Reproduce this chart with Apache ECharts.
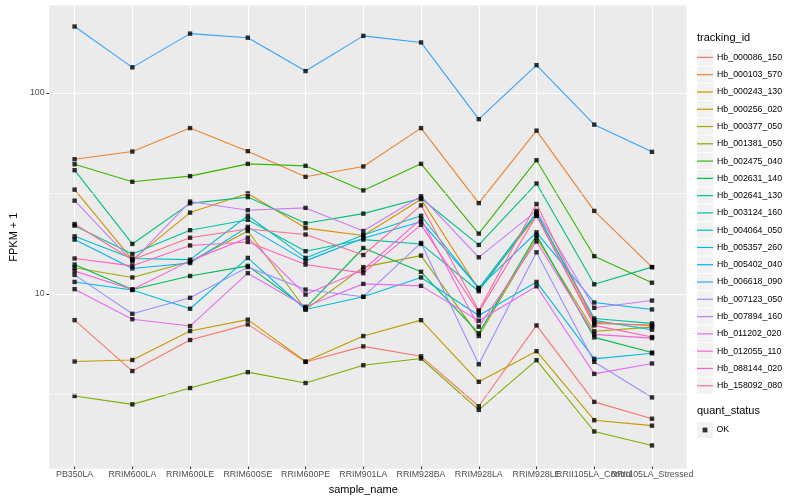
<!DOCTYPE html>
<html>
<head>
<meta charset="utf-8">
<script src="https://cdn.jsdelivr.net/npm/echarts@6/dist/echarts.min.js"></script>
<style>
html,body{margin:0;padding:0;background:#fff;}
#chart{width:800px;height:500px;}
</style>
</head>
<body>
<div id="chart"></div>
<script>
// ---------------- data ----------------
const categories = ["PB350LA","RRIM600LA","RRIM600LE","RRIM600SE","RRIM600PE","RRIM901LA","RRIM928BA","RRIM928LA","RRIM928LE","RRII105LA_Control","RRII105LA_Stressed"];
const seriesNames = ["Hb_000086_150","Hb_000103_570","Hb_000243_130","Hb_000256_020","Hb_000377_050","Hb_001381_050","Hb_002475_040","Hb_002631_140","Hb_002641_130","Hb_003124_160","Hb_004064_050","Hb_005357_260","Hb_005402_040","Hb_006618_090","Hb_007123_050","Hb_007894_160","Hb_011202_020","Hb_012055_110","Hb_088144_020","Hb_158092_080"];

const Hb_000086_150 = [7.28, 4.05, 5.79, 6.93, 4.50, 5.38, 4.80, 2.70, 6.85, 2.84, 2.34];
const Hb_000103_570 = [46.4, 50.7, 66.4, 50.9, 37.9, 42.7, 66.4, 28.0, 64.5, 25.6, 13.4];
const Hb_000243_130 = [32.7, 14.6, 25.1, 31.3, 21.0, 19.3, 29.3, 10.35, 24.2, 7.01, 6.88];
const Hb_000256_020 = [4.52, 4.60, 6.42, 7.32, 4.52, 6.06, 7.28, 3.58, 5.09, 2.30, 2.16];
const Hb_000377_050 = [13.3, 11.9, 14.3, 20.3, 8.23, 13.4, 15.3, 6.06, 18.8, 6.40, 6.72];
const Hb_001381_050 = [3.04, 2.76, 3.33, 4.00, 3.53, 4.33, 4.68, 2.59, 4.59, 2.02, 1.72];
const Hb_002475_040 = [43.8, 35.8, 38.2, 44.0, 43.0, 32.4, 44.0, 19.7, 45.9, 15.2, 11.2];
const Hb_002631_140 = [13.8, 10.35, 12.1, 13.6, 8.39, 16.7, 12.7, 6.25, 19.4, 5.97, 5.01];
const Hb_002641_130 = [40.9, 17.5, 27.9, 30.0, 22.2, 24.8, 29.6, 17.3, 35.1, 11.0, 13.4];
const Hb_003124_160 = [21.6, 15.6, 20.5, 23.1, 16.1, 18.4, 17.5, 10.15, 24.9, 7.42, 7.01];
const Hb_004064_050 = [19.1, 14.8, 14.6, 24.2, 14.9, 19.4, 24.2, 10.5, 25.1, 7.26, 6.52];
const Hb_005357_260 = [11.3, 10.3, 8.30, 14.9, 8.23, 9.52, 11.9, 7.68, 11.3, 4.66, 4.97];
const Hb_005402_040 = [18.4, 13.2, 14.05, 21.3, 14.4, 18.7, 22.6, 10.55, 20.0, 8.92, 8.23];
const Hb_006618_090 = [213.8, 133.6, 197, 188, 128, 192, 178, 73.6, 137, 69.1, 50.5];
const Hb_007123_050 = [12.25, 7.83, 9.41, 13.4, 10.35, 9.52, 17.7, 4.38, 15.9, 4.50, 2.99];
const Hb_007894_160 = [28.8, 14.3, 28.5, 25.8, 26.5, 20.3, 30.3, 15.0, 25.6, 8.39, 9.12];
const Hb_011202_020 = [10.4, 7.36, 6.80, 12.5, 8.49, 11.05, 10.8, 7.23, 10.75, 3.92, 4.42];
const Hb_012055_110 = [12.8, 10.35, 14.4, 18.8, 9.77, 13.0, 23.3, 6.75, 18.0, 6.18, 5.92];
const Hb_088144_020 = [14.8, 13.6, 17.2, 17.9, 13.8, 12.5, 21.8, 7.98, 24.2, 6.85, 5.99];
const Hb_158092_080 = [22.0, 14.6, 18.8, 20.8, 19.5, 15.4, 27.3, 8.14, 27.7, 7.10, 6.80];

const seriesValues = [Hb_000086_150, Hb_000103_570, Hb_000243_130, Hb_000256_020, Hb_000377_050, Hb_001381_050, Hb_002475_040, Hb_002631_140, Hb_002641_130, Hb_003124_160, Hb_004064_050, Hb_005357_260, Hb_005402_040, Hb_006618_090, Hb_007123_050, Hb_007894_160, Hb_011202_020, Hb_012055_110, Hb_088144_020, Hb_158092_080];

const yTickLabels = [10, 100];
const yMinorBreaks = [3.1623, 31.623];
const quantStatus = ["OK"];

// ---------------- style ----------------
const colors = ["#F8766D","#EA8331","#D89000","#C09B00","#A3A500","#7CAE00","#39B600","#00BB4E","#00BF7D","#00C1A3","#00BFC4","#00BAE0","#00B0F6","#35A2FF","#9590FF","#C77CFF","#E76BF3","#FA62DB","#FF62BC","#FF6C91"];
const FONT = '"Liberation Sans", Arial, sans-serif';
const PANEL = {left: 40, right: 113.4, top: 5.6, bottom: 31.3};
const DATAGRID = {left: 74.6, right: 148, top: 5.6, bottom: 31.3};
const Y_MIN = 1.35, Y_MAX = 272;

const lineSeries = seriesNames.map((name, i) => ({
  name: name,
  type: 'line',
  xAxisIndex: 1, yAxisIndex: 1,
  data: seriesValues[i],
  color: colors[i],
  showSymbol: false,
  symbol: 'none',
  lineStyle: {color: colors[i], width: 1.1},
  emphasis: {disabled: true},
  z: 2
}));

const pointData = [];
seriesValues.forEach(vals => vals.forEach((v, j) => pointData.push([categories[j], v])));

// legend key background boxes (decoration)
const keyBoxes = [];
for (let i = 0; i < seriesNames.length; i++) {
  keyBoxes.push({type: 'rect', left: 697, top: 49.2 + i * 17.28, shape: {width: 16, height: 16.3}, style: {fill: '#F2F2F2'}, z: -1});
}
keyBoxes.push({type: 'rect', left: 697, top: 421.8, shape: {width: 16, height: 16.3}, style: {fill: '#F2F2F2'}, z: -1});

const chart = echarts.init(document.getElementById('chart'), null, {renderer: 'canvas'});
chart.setOption({
  animation: false,
  backgroundColor: '#FFFFFF',
  textStyle: {fontFamily: FONT},
  grid: [
    Object.assign({show: true, backgroundColor: '#EBEBEB', borderWidth: 0}, PANEL),
    Object.assign({show: false}, DATAGRID)
  ],
  xAxis: [
    {gridIndex: 0, type: 'value', show: false, min: 0, max: 1},
    {
      gridIndex: 1, type: 'category', data: categories, boundaryGap: false,
      axisLine: {show: false},
      axisTick: {show: true, length: 2.7, lineStyle: {color: '#333333', width: 1}},
      axisLabel: {interval: 0, fontSize: 8.8, color: '#4D4D4D', margin: 3.6, fontFamily: FONT, hideOverlap: false},
      splitLine: {show: true, lineStyle: {color: '#FFFFFF', width: 1.1}},
      name: 'sample_name', nameLocation: 'middle', nameGap: 13.5,
      nameTextStyle: {fontSize: 11, color: '#000000', fontFamily: FONT}
    }
  ],
  yAxis: [
    {
      gridIndex: 0, type: 'log', min: Y_MIN, max: Y_MAX,
      axisLine: {show: false},
      axisTick: {show: true, length: 2.7, customValues: yTickLabels, lineStyle: {color: '#333333', width: 1}},
      axisLabel: {customValues: yTickLabels, fontSize: 8.8, color: '#4D4D4D', margin: 4.6, fontFamily: FONT},
      splitLine: {show: true, lineStyle: {color: '#FFFFFF', width: 1.1}},
      minorSplitLine: {show: false},
      name: 'FPKM + 1', nameLocation: 'middle', nameGap: 22, nameRotate: 90,
      nameTextStyle: {fontSize: 11, color: '#000000', fontFamily: FONT}
    },
    {gridIndex: 1, type: 'log', min: Y_MIN, max: Y_MAX, show: false}
  ],
  legend: [
    {
      data: seriesNames, orient: 'vertical', left: 692, top: 43.9, padding: 5,
      icon: 'rect', itemWidth: 16, itemHeight: 1.2, itemGap: 0.28,
      selectedMode: false,
      textStyle: {fontSize: 8.8, color: '#000000', lineHeight: 17, fontFamily: FONT, padding: [0, 0, 0, -1]}
    },
    {
      data: quantStatus, orient: 'vertical', left: 697.6, top: 416.5, padding: 5,
      icon: 'rect', itemWidth: 4.8, itemHeight: 4.8, selectedMode: false,
      textStyle: {fontSize: 8.8, color: '#000000', lineHeight: 17, fontFamily: FONT, padding: [0, 0, 0, 4]}
    }
  ],
  graphic: keyBoxes.concat([
    {type: 'text', left: 697, top: 32, style: {text: 'tracking_id', fontSize: 11, fill: '#000000', font: '11px ' + FONT}},
    {type: 'text', left: 697, top: 405.5, style: {text: 'quant_status', fontSize: 11, fill: '#000000', font: '11px ' + FONT}}
  ]),
  series: [
    {
      type: 'line', xAxisIndex: 0, yAxisIndex: 0, data: [], silent: true, z: 1,
      markLine: {
        silent: true, symbol: 'none', animation: false,
        label: {show: false},
        lineStyle: {color: '#FFFFFF', width: 0.55, type: 'solid'},
        emphasis: {disabled: true},
        data: yMinorBreaks.map(v => ({yAxis: v}))
      }
    }
  ].concat(lineSeries).concat([
    {
      name: 'OK', type: 'scatter', xAxisIndex: 1, yAxisIndex: 1,
      data: pointData, symbol: 'rect', symbolSize: 4.4, clip: false,
      itemStyle: {color: '#000000'}, color: '#000000',
      emphasis: {disabled: true}, z: 3
    }
  ])
});
</script>
</body>
</html>
